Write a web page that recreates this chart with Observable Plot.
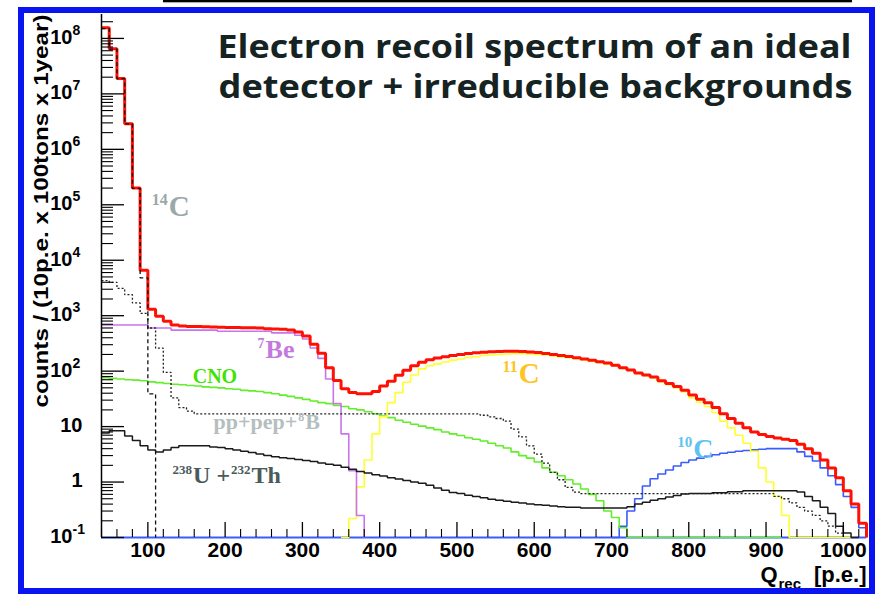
<!DOCTYPE html>
<html>
<head>
<meta charset="utf-8">
<script src="https://cdn.jsdelivr.net/npm/d3@7"></script>
<script src="https://cdn.jsdelivr.net/npm/@observablehq/plot@0.6"></script>
<style>
  html, body { margin: 0; padding: 0; background: #fff; }
  #figure { position: relative; width: 877px; height: 594px; overflow: hidden; background: #fff; }
  #figure svg { position: absolute; left: 0; top: 0; }
  #frame { position: absolute; left: 18px; top: 7px; width: 857px; height: 587px; box-sizing: border-box; border: 6px solid #0a14f0; pointer-events: none; }
  #topbar { position: absolute; left: 163px; top: 0; width: 689px; height: 2px; background: #000; box-shadow: 0 1px 1px rgba(0,0,0,0.35); }
</style>
</head>
<body>
<div id="figure"><div id="topbar"></div></div>
<script>
// Histogram layout: 10 p.e. bins, x range of the spectrum
const binWidth = 10;
const qMin = 40, qMax = 1030;
const countFloor = 0.1;
const countTop = 2.7e8;

// Total spectrum (sum of all components), one value per bin from 40 p.e.
const totalStart = 40;
const totalCounts = [
  1.55e8, 6.5e7, 1.9e7, 2.9e6, 2.0e5, 6.6e3, 1.3e3, 980, 790, 680,
  650, 640, 635, 630, 625, 620, 615, 612, 608, 605,
  600, 580, 575, 570, 550, 510, 430, 305, 210, 115,
  68, 48, 41, 39, 39, 43, 54, 66, 84, 104,
  125, 145, 160, 172, 182, 192, 200, 208, 214, 220,
  224, 226, 228, 228, 226, 222, 216, 209, 200, 192,
  184, 175, 166, 157, 148, 140, 128, 115, 105, 93,
  85, 78, 67, 60, 53, 45, 37, 31, 27, 22,
  17, 14, 11.5, 9.5, 8, 7.2, 6.6, 6.2, 5.9, 5.6,
  4.8, 4.0, 3.3, 2.5, 1.8, 1.2, 0.7, 0.4, 0.18
];

// 14C
const c14Start = 40;
const c14Counts = [1.5e8, 6.4e7, 1.88e7, 2.88e6, 1.97e5, 4.8e3, 39, 0];

// 7Be solar neutrinos
const be7Start = 40;
const be7Counts = [
  680, 680, 680, 680, 680, 680, 600, 600, 600, 550,
  550, 550, 550, 550, 550, 525, 525, 525, 525, 525,
  525, 525, 490, 490, 490, 445, 380, 262, 170, 72,
  26, 7.4, 1.6, 0.25, 0
];

// CNO solar neutrinos
const cnoStart = 40;
const cnoCounts = [
  76, 74, 72, 70, 69, 67, 64, 62, 60, 58,
  57, 55, 54, 52, 51, 50, 48, 47, 45, 44,
  43, 41, 39, 37, 35, 33, 31, 29, 27, 26,
  24, 23, 21, 20, 18.5, 17, 15.5, 14.5, 13, 12,
  11, 10.2, 9.5, 8.8, 8.0, 7.4, 6.9, 6.3, 5.9, 5.5,
  5.0, 4.5, 4.1, 3.5, 3.0, 2.7, 2.3, 1.8, 1.5, 1.3,
  1.1, 0.92, 0.75, 0.6, 0.46, 0.3, 0.23, 0.15,
  0, 0, 0, 0, 0, 0, 0, 0, 0, 0, 0, 0, 0, 0, 0, 0, 0, 0, 0, 0, 0
];

// pp + pep + 8B solar neutrinos
const ppStart = 40;
const ppCounts = [
  4300, 4000, 3100, 2400, 1700, 1100, 600, 260, 95, 33,
  22, 19, 17, 17, 17, 17, 17, 17, 17, 17,
  17, 17, 17, 17, 17, 17, 17, 17, 17, 17,
  17, 17, 17, 17, 17, 17, 17, 17, 17, 17,
  17, 17, 17, 17, 17, 17, 17, 17, 17, 16,
  15, 14, 12.5, 9, 6.5, 4.5, 3.2, 2.2, 1.5, 1.1,
  0.8, 0.66, 0.62, 0.62, 0.62, 0.62, 0.62, 0.62, 0.62, 0.62,
  0.62, 0.62, 0.62, 0.62, 0.62, 0.62, 0.62, 0.62, 0.62, 0.62,
  0.62, 0.62, 0.62, 0.62, 0.62, 0.62, 0.62, 0.55, 0.5, 0.42,
  0.35, 0.3, 0.25, 0.2, 0.16, 0.12, 0
];

// 238U + 232Th chains
const uThStart = 40;
const uThCounts = [
  7.7, 8.4, 8.4, 6.8, 5.6, 4.5, 3.8, 3.5, 3.8, 4.2,
  4.5, 4.5, 4.5, 4.5, 4.3, 4.2, 4.0, 3.8, 3.6, 3.4,
  3.2, 3.0, 2.85, 2.75, 2.65, 2.55, 2.45, 2.35, 2.2, 2.1,
  2.0, 1.85, 1.7, 1.55, 1.45, 1.35, 1.28, 1.2, 1.13, 1.07,
  1.0, 0.95, 0.88, 0.78, 0.71, 0.65, 0.62, 0.58, 0.55, 0.52,
  0.49, 0.47, 0.45, 0.43, 0.42, 0.40, 0.39, 0.38, 0.37, 0.36,
  0.35, 0.35, 0.34, 0.34, 0.34, 0.34, 0.34, 0.34, 0.36, 0.40,
  0.43, 0.47, 0.5, 0.54, 0.57, 0.61, 0.62, 0.62, 0.62, 0.64,
  0.64, 0.67, 0.67, 0.7, 0.7, 0.7, 0.7, 0.7, 0.7, 0.7,
  0.66, 0.55, 0.46, 0.35, 0.27, 0.16, 0.12, 0, 0
];

// 11C cosmogenic
const c11Start = 350;
const c11Counts = [
  0, 0.22, 0.82, 2.5, 7.4, 15, 27, 41, 63,
  85, 110, 125, 135, 146, 158, 166, 176, 182, 192,
  196, 200, 204, 206, 206, 205, 200, 195, 188, 181,
  175, 167, 158, 150, 142, 134, 124, 112, 103, 90,
  83, 75, 64, 57, 50, 42, 33, 27.5, 23, 18,
  12.5, 9.5, 7, 5, 3.6, 1.8, 1.0, 0.55, 0.25, 0,
  0, 0, 0, 0, 0, 0, 0, 0
];

// 10C cosmogenic
const c10Start = 700;
const c10Counts = [
  0, 0.16, 0.3, 0.5,
  0.85, 1.15, 1.4, 1.65, 1.95, 2.25, 2.5, 2.7, 2.9, 3.1,
  3.3, 3.45, 3.6, 3.7, 3.8, 3.9, 4.0, 4.0, 4.0, 4.0,
  3.5, 2.9, 2.4, 1.8, 1.3, 0.9, 0.55, 0.35, 0.15
];

// Axis ticks and labels
const xMajorTicks = [100, 200, 300, 400, 500, 600, 700, 800, 900, 1000];
const xTickLabels = ["100", "200", "300", "400", "500", "600", "700", "800", "900", "1000"];
const xMinorTicks = d3.range(40, 1030, 20).filter(v => v % 100 !== 0);
const yMajorTicks = [0.1, 1, 10, 1e2, 1e3, 1e4, 1e5, 1e6, 1e7, 1e8];
const yTickBases = ["10", "1", "10", "10", "10", "10", "10", "10", "10", "10"];
const yTickExponents = ["-1", "", "", "2", "3", "4", "5", "6", "7", "8"];
const yMinorTicks = yMajorTicks.flatMap(d => [2, 3, 4, 5, 6, 7, 8, 9].map(k => k * d)).filter(v => v < countTop);

// Component labels: text runs (superscript flag), anchor position in data units
const labelRuns = [
  [["14", true], ["C", false]],
  [["7", true], ["Be", false]],
  [["CNO", false]],
  [["pp+pep+", false], ["8", true], ["B", false]],
  [["238", true], ["U +", false], ["232", true], ["Th", false]],
  [["11", true], ["C", false]],
  [["10", true], ["C", false]]
];
const labelQ = [105, 242, 158, 185, 132, 559, 785];
const labelCounts = [6.4e4, 176, 60, 9.2, 0.98, 60, 2.77];

const titleLines = ["Electron recoil spectrum of an ideal", "detector + irreducible backgrounds"];
const yTitle = "counts / (10p.e. x 100tons x 1year)";

// ---- styling ----
const serif = '"Liberation Serif", "Times New Roman", serif';
const sans = '"Liberation Sans", Arial, Helvetica, sans-serif';
const titleFont = '"Open Sans", "Liberation Sans", sans-serif';
const labelColors = ["#9ba8a8", "#c479e0", "#3ee400", "#b5bebe", "#4c5a5a", "#ffc41f", "#5ec4ee"];
const labelSizes = [29, 26, 20, 22, 24, 29, 28];

const W = 877, H = 594;
const M = {left: 101, right: 11, top: 14, bottom: 57};
const plotW = W - M.left - M.right;
const plotH = H - M.top - M.bottom;

const measureCtx = document.createElement("canvas").getContext("2d");
function textWidth(text, size, family) {
  measureCtx.font = `bold ${size}px ${family}`;
  return measureCtx.measureText(text).width;
}

// Step outline of a histogram: left edge of each bin, closed at the axis edge
function histogramSteps(start, counts) {
  const pts = counts.map((c, i) => ({q: start + i * binWidth, c: Math.max(c, countFloor)}));
  const last = pts[pts.length - 1];
  if (last.c > countFloor) {
    const edge = start + counts.length * binWidth;
    pts.push({q: edge, c: last.c}, {q: edge, c: countFloor});
  }
  return pts;
}

function histogramLine(start, counts, stroke, strokeWidth, dash) {
  return Plot.line(histogramSteps(start, counts), {
    x: "q", y: "c", curve: "step-after", stroke, strokeWidth,
    strokeDasharray: dash, strokeLinejoin: "miter", strokeLinecap: "butt"
  });
}

function componentLabel(i) {
  const size = labelSizes[i];
  const supSize = Math.round(size * 0.55);
  let offset = 0;
  return labelRuns[i].map(([text, sup]) => {
    const fs = sup ? supSize : size;
    const mark = Plot.text([{q: labelQ[i], c: labelCounts[i]}], {
      x: "q", y: "c", text: () => text,
      dx: offset, dy: sup ? -Math.round(size * 0.38) : 0,
      textAnchor: "start", lineAnchor: "bottom",
      fontSize: fs, fontWeight: "bold", fontFamily: serif, fill: labelColors[i]
    });
    offset += textWidth(text, fs, serif) + 1;
    return mark;
  });
}

const blueLine = "#3a5cff";
const chart = Plot.plot({
  width: W, height: H,
  marginLeft: M.left, marginRight: M.right, marginTop: M.top, marginBottom: M.bottom,
  style: {background: "transparent", overflow: "visible"},
  x: {domain: [qMin, qMax], axis: null},
  y: {type: "log", domain: [countFloor, countTop], axis: null},
  marks: [
    // baseline of the log axis
    Plot.ruleY([countFloor], {stroke: blueLine, strokeWidth: 2}),
    histogramLine(c10Start, c10Counts, blueLine, 1.6),
    histogramLine(cnoStart, cnoCounts, "#62ee2a", 1.6),
    histogramLine(c11Start, c11Counts, "#ffff30", 1.6),
    histogramLine(be7Start, be7Counts, "#c874ee", 1.6),
    histogramLine(uThStart, uThCounts, "#1a1a1a", 1.5),
    histogramLine(ppStart, ppCounts, "#222", 1.3, "2,2"),
    histogramLine(totalStart, totalCounts, "#ff1005", 3),
    histogramLine(c14Start, c14Counts, "#111", 1.3, "4,3"),
    // axes: left line with inward ticks
    Plot.ruleX([qMin], {stroke: "#000", strokeWidth: 1.5}),
    Plot.tickY(yMajorTicks, {y: d => d, insetRight: plotW - 23, stroke: "#000", strokeWidth: 1.3}),
    Plot.tickY(yMinorTicks, {y: d => d, insetRight: plotW - 12, stroke: "#000", strokeWidth: 1.1}),
    Plot.tickX(xMajorTicks, {x: d => d, insetTop: plotH - 15, stroke: "#000", strokeWidth: 1.3}),
    Plot.tickX(xMinorTicks, {x: d => d, insetTop: plotH - 8, stroke: "#000", strokeWidth: 1.1}),
    // tick labels
    Plot.text(xMajorTicks, {x: d => d, text: (d, i) => xTickLabels[i], frameAnchor: "bottom", lineAnchor: "top", dy: 5,
      fontSize: 21, fontWeight: "bold", fontFamily: sans, fill: "#000"}),
    Plot.text(yMajorTicks, {y: d => d, text: (d, i) => yTickBases[i], frameAnchor: "left", textAnchor: "end",
      dx: -29, dy: -1, lineAnchor: "middle", fontSize: 20, fontWeight: "bold", fontFamily: sans, fill: "#000",
      filter: (d, i) => yTickExponents[i] !== ""}),
    Plot.text(yMajorTicks, {y: d => d, text: (d, i) => yTickBases[i], frameAnchor: "left", textAnchor: "end",
      dx: -19, dy: -1, lineAnchor: "middle", fontSize: 20, fontWeight: "bold", fontFamily: sans, fill: "#000",
      filter: (d, i) => yTickExponents[i] === ""}),
    Plot.text(yMajorTicks, {y: d => d, text: (d, i) => yTickExponents[i], frameAnchor: "left", textAnchor: "start",
      dx: -29, dy: -8, lineAnchor: "middle", fontSize: 14, fontWeight: "bold", fontFamily: sans, fill: "#000",
      filter: (d, i) => yTickExponents[i] !== ""}),
    // axis titles
    Plot.text([yTitle], {text: d => d, frameAnchor: "left", dx: -60, dy: -65, rotate: -90, textAnchor: "middle",
      lineAnchor: "middle", fontSize: 21, fontWeight: "bold", fontFamily: sans, fill: "#000"}),
    Plot.text(["Q"], {text: d => d, frameAnchor: "bottom-right", dx: -106, dy: 44, textAnchor: "start", lineAnchor: "bottom",
      fontSize: 22, fontWeight: "bold", fontFamily: sans, fill: "#000"}),
    Plot.text(["rec"], {text: d => d, frameAnchor: "bottom-right", dx: -88, dy: 51, textAnchor: "start", lineAnchor: "bottom",
      fontSize: 15, fontWeight: "bold", fontFamily: sans, fill: "#000"}),
    Plot.text(["[p.e.]"], {text: d => d, frameAnchor: "bottom-right", dx: 0, dy: 44, textAnchor: "end", lineAnchor: "bottom",
      fontSize: 22, fontWeight: "bold", fontFamily: sans, fill: "#000"}),
    // title
    Plot.text([titleLines[0]], {text: d => d, frameAnchor: "top-right", dx: -15, dy: 43, textAnchor: "end", lineAnchor: "bottom",
      fontSize: 32, fontWeight: "bold", fontFamily: titleFont, fill: "#152323"}),
    Plot.text([titleLines[1]], {text: d => d, frameAnchor: "top-right", dx: -14, dy: 83, textAnchor: "end", lineAnchor: "bottom",
      fontSize: 32, fontWeight: "bold", fontFamily: titleFont, fill: "#152323"}),
    // component labels
    ...labelRuns.flatMap((_, i) => componentLabel(i))
  ]
});

// fit the wide title lines and the rotated axis title to their printed lengths
chart.querySelectorAll("text").forEach(t => {
  const s = t.textContent;
  if (s === titleLines[0] || s === titleLines[1]) {
    t.setAttribute("textLength", 634);
    t.setAttribute("lengthAdjust", "spacingAndGlyphs");
  } else if (s === yTitle) {
    t.setAttribute("textLength", 393);
    t.setAttribute("lengthAdjust", "spacingAndGlyphs");
  }
});

const fig = document.getElementById("figure");
fig.insertBefore(chart, fig.firstChild);
const frame = document.createElement("div");
frame.id = "frame";
fig.appendChild(frame);
</script>
</body>
</html>
